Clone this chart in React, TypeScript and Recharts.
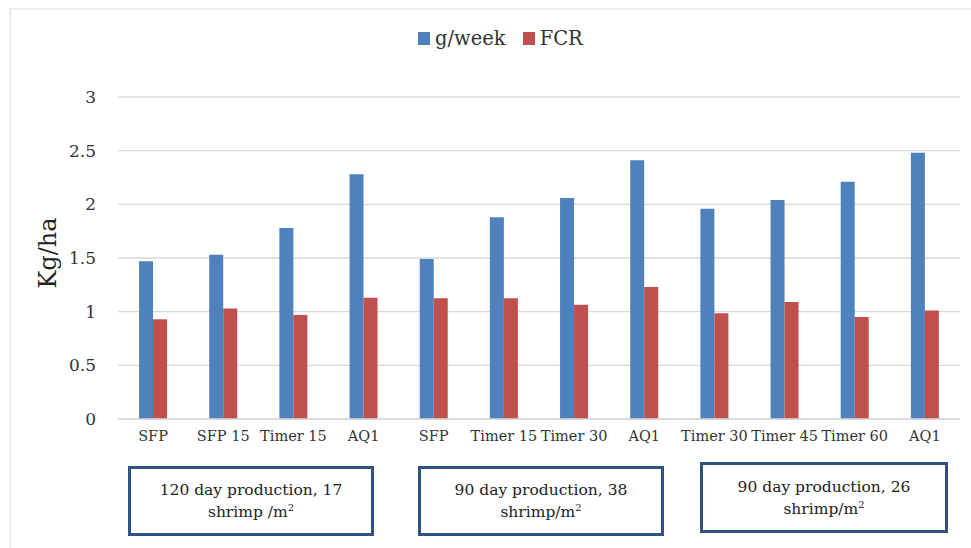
import React from 'react';
import { BarChart, Bar, XAxis, YAxis, CartesianGrid, Legend } from 'recharts';

const categories = ['SFP', 'SFP 15', 'Timer 15', 'AQ1', 'SFP', 'Timer 15', 'Timer 30', 'AQ1', 'Timer 30', 'Timer 45', 'Timer 60', 'AQ1'];
const gWeek = [1.47, 1.53, 1.78, 2.28, 1.49, 1.88, 2.06, 2.41, 1.96, 2.04, 2.21, 2.48];
const fcr = [0.93, 1.03, 0.97, 1.13, 1.125, 1.125, 1.065, 1.23, 0.985, 1.09, 0.95, 1.01];
const yTicks = [0, 0.5, 1, 1.5, 2, 2.5, 3];
const seriesNames = ['g/week', 'FCR'];
const groupLine1 = ['120 day production, 17', '90 day production, 38', '90 day production, 26'];
const groupLine2 = ['shrimp /m', 'shrimp/m', 'shrimp/m'];

const data = categories.map((c, i) => ({ name: c, gweek: gWeek[i], fcr: fcr[i] }));

const FONT = '"DejaVu Serif", "Liberation Serif", serif';
const BLUE = '#4F81BD';
const RED = '#C0504D';

const boxStyles: React.CSSProperties[] = [
  { left: 128, top: 466, width: 246, height: 70 },
  { left: 418, top: 466, width: 246, height: 70 },
  { left: 700, top: 462, width: 248, height: 71 },
];

const LegendContent = (props: any) => {
  const payload = [...(props.payload || [])].sort(
    (a: any, b: any) => seriesNames.indexOf(a.value) - seriesNames.indexOf(b.value)
  );
  return (
    <div style={{ display: 'flex', alignItems: 'center', fontFamily: FONT, fontSize: 19.5, color: '#333', whiteSpace: 'nowrap' }}>
      {payload.map((p: any, i: number) => (
        <div key={i} style={{ display: 'flex', alignItems: 'center', marginRight: 17 }}>
          <span style={{ display: 'inline-block', width: 12, height: 13, background: p.color, marginRight: 5 }} />
          <span>{p.value}</span>
        </div>
      ))}
    </div>
  );
};

export default function App() {
  return (
    <div style={{ position: 'absolute', left: 0, top: 0, width: 971, height: 548, background: '#fff', overflow: 'hidden' }}>
      <div style={{ position: 'absolute', left: 9, top: 8, width: 980, height: 560, borderLeft: '2px solid #ececec', borderTop: '2px solid #ececec', boxSizing: 'border-box' }} />
      <BarChart
        width={971}
        height={548}
        data={data}
        margin={{ top: 97, right: 11, bottom: 99, left: 58 }}
        barCategoryGap="30%"
        barGap={0}
      >
        <CartesianGrid vertical={false} stroke="#d9d9d9" strokeWidth={1.3} />
        <XAxis
          dataKey="name"
          height={30}
          axisLine={{ stroke: '#d9d9d9', strokeWidth: 1.3 }}
          tickLine={false}
          tickMargin={6}
          interval={0}
          tick={{ fill: '#333', fontSize: 14.5, fontFamily: FONT }}
        />
        <YAxis
          width={60}
          domain={[0, 3]}
          ticks={yTicks}
          axisLine={false}
          tickLine={false}
          tickMargin={16}
          tick={{ fill: '#333', fontSize: 17, fontFamily: FONT }}
          label={{
            content: () => (
              <text x={48} y={253} transform="rotate(-90 48 253)" textAnchor="middle" dominantBaseline="central" fill="#222" fontSize={24} fontFamily={FONT}>
                Kg/ha
              </text>
            ),
          }}
        />
        <Legend
          verticalAlign="middle"
          align="center"
          content={<LegendContent />}
          wrapperStyle={{ position: 'absolute', top: 27, left: 418, width: 220, height: 30 }}
        />
        <Bar dataKey="gweek" name={seriesNames[0]} fill={BLUE} isAnimationActive={false} />
        <Bar dataKey="fcr" name={seriesNames[1]} fill={RED} isAnimationActive={false} />
      </BarChart>
      {boxStyles.map((s, i) => (
        <div
          key={i}
          style={{
            position: 'absolute',
            ...s,
            boxSizing: 'border-box',
            border: '3px solid #2E5283',
            display: 'flex',
            flexDirection: 'column',
            justifyContent: 'center',
            alignItems: 'center',
            fontFamily: FONT,
            fontSize: 15.5,
            lineHeight: '22px',
            color: '#222',
            textAlign: 'center',
          }}
        >
          <div>{groupLine1[i]}</div>
          <div>
            {groupLine2[i]}
            <sup style={{ fontSize: 10, lineHeight: 0 }}>2</sup>
          </div>
        </div>
      ))}
    </div>
  );
}
